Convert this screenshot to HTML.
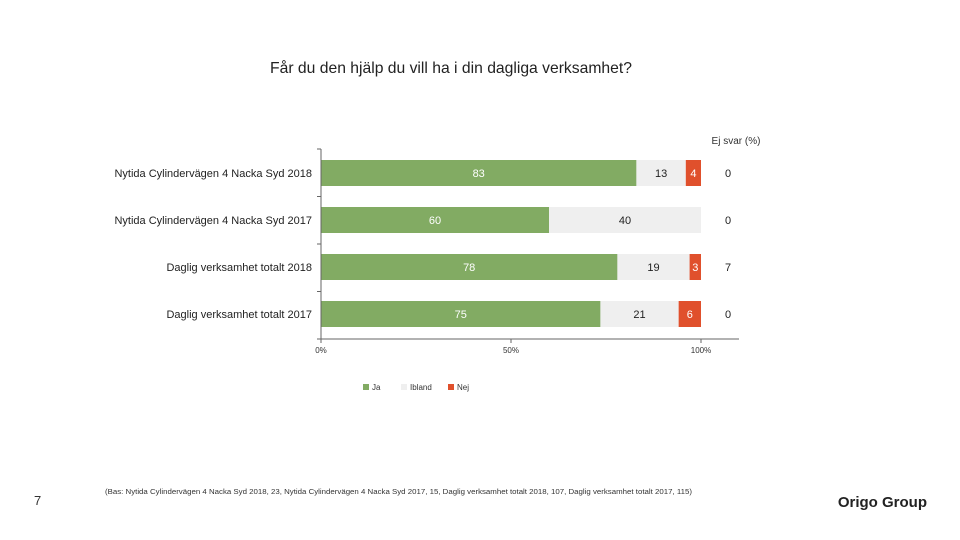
<!DOCTYPE html>
<html><head><meta charset="utf-8"><style>
body{margin:0;width:960px;height:540px;background:#fff;font-family:"Liberation Sans",sans-serif;overflow:hidden}
svg{position:absolute;left:0;top:0}
</style></head><body>
<svg id="c" width="960" height="540">
<text x="451" y="73" font-size="15.7" text-anchor="middle" fill="#222">Får du den hjälp du vill ha i din dagliga verksamhet?</text>
<text x="736" y="144" font-size="10" text-anchor="middle" fill="#333">Ej svar (%)</text>
<text x="34" y="505" font-size="13" fill="#333">7</text>
<text x="105" y="494" font-size="7" textLength="587" lengthAdjust="spacingAndGlyphs" fill="#333">(Bas: Nytida Cylindervägen 4 Nacka Syd 2018, 23, Nytida Cylindervägen 4 Nacka Syd 2017, 15, Daglig verksamhet totalt 2018, 107, Daglig verksamhet totalt 2017, 115)</text>
<text x="927" y="507" font-size="15" font-weight="bold" text-anchor="end" fill="#222">Origo Group</text>
<g id="plot"></g>
</svg>
<script>
const categories=["Nytida Cylindervägen 4 Nacka Syd 2018","Nytida Cylindervägen 4 Nacka Syd 2017","Daglig verksamhet totalt 2018","Daglig verksamhet totalt 2017"];
const ja=[83,60,78,75];
const ibland=[13,40,19,21];
const nej=[4,0,3,6];
const ejSvar=[0,0,7,0];
const ticks=[0,50,100];
const series=[{n:"Ja",v:ja,c:"#82ab63",t:"#fff"},{n:"Ibland",v:ibland,c:"#efefef",t:"#222"},{n:"Nej",v:nej,c:"#e0502c",t:"#fff"}];
const NS="http://www.w3.org/2000/svg",g=document.getElementById("plot");
const x=v=>321+v*3.8, rowY=i=>160+i*47, bh=26;
function el(t,a,txt){const e=document.createElementNS(NS,t);for(const k in a)e.setAttribute(k,a[k]);if(txt!=null)e.textContent=txt;g.appendChild(e);return e;}
categories.forEach((cat,i)=>{
  let acc=0;
  const total=series.reduce((s,ser)=>s+ser.v[i],0)||1;
  series.forEach((s,j)=>{
    const v=s.v[i];
    const a=acc/total*100,b=(acc+v)/total*100;
    if(v>0){
      const r=el("rect",{x:x(a),y:rowY(i),width:x(b)-x(a),height:bh,fill:s.c});
      
      
      const t=el("text",{x:(x(a)+x(b))/2,y:rowY(i)+17,"font-size":11,"text-anchor":"middle",fill:s.t},v);
      
      
    }
    acc+=v;
  });
  const l=el("text",{x:312,y:rowY(i)+17,"font-size":11,"text-anchor":"end",fill:"#222"},cat);
  
  
  const e=el("text",{x:728,y:rowY(i)+17,"font-size":11,"text-anchor":"middle",fill:"#222"},ejSvar[i]);
  
  
});
const ya=el("line",{x1:321,y1:149,x2:321,y2:339,stroke:"#666"});


for(let k=0;k<=4;k++){el("line",{x1:317,x2:321,y1:149+k*47.5,y2:149+k*47.5,stroke:"#666"});}
const xa=el("line",{x1:321,y1:339,x2:739,y2:339,stroke:"#666"});


ticks.forEach(t=>{
  el("line",{x1:x(t),x2:x(t),y1:339,y2:343,stroke:"#666"});
  const tl=el("text",{x:x(t),y:353,"font-size":8,"text-anchor":"middle",fill:"#333"},t+"%");
  
  
});
const lx=[363,401,448];
series.forEach((s,j)=>{
  const r=el("rect",{x:lx[j],y:384,width:6,height:6,fill:s.c});
  
  
  const t=el("text",{x:lx[j]+9,y:390,"font-size":8,fill:"#333"},s.n);
  
  
});
</script>
</body></html>
